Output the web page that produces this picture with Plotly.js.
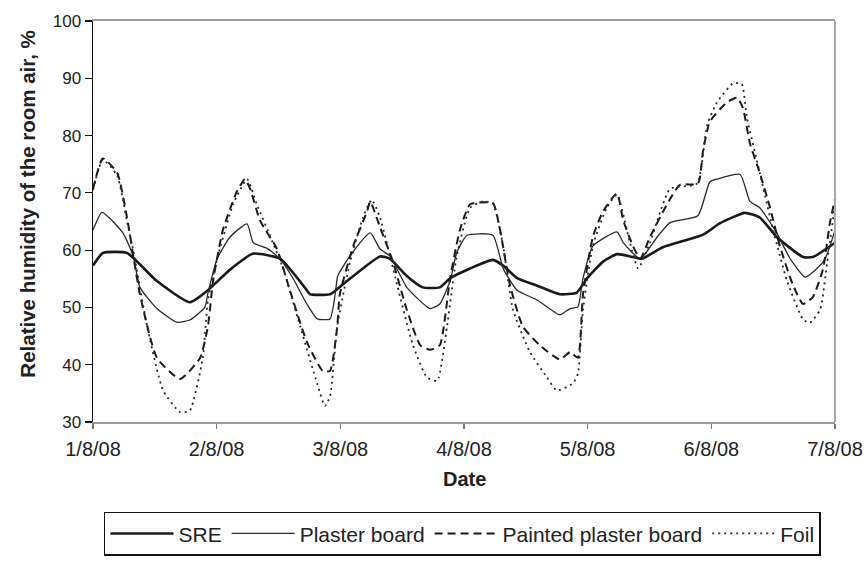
<!DOCTYPE html>
<html>
<head>
<meta charset="utf-8">
<script src="https://cdn.plot.ly/plotly-3.0.1.min.js"></script>
<style>
html,body{margin:0;padding:0;background:#fff;}
#chart{width:864px;height:568px;}
</style>
</head>
<body>
<div id="chart"></div>
<script>
// Tick labels (one per day) and their positions in hours since 1/8/08 00:00
const dayLabels = ['1/8/08','2/8/08','3/8/08','4/8/08','5/8/08','6/8/08','7/8/08'];
const dayHours = [0,24,48,72,96,120,144];

// SRE
const sreHours = [0,1.9,6.6,12.4,18.8,22.3,26.6,31.1,36.3,41.5,42.1,46,47.4,49.3,55.7,57.6,60.9,64,67.3,69.3,73.2,77.6,79.6,82.3,86.2,90.6,93.9,95.9,99,101.7,104.8,106.5,110.6,118.4,121.7,126.5,129.4,132.7,137.8,139.7,144];
const sreValues = [57.3,59.5,59.5,54.6,50.9,53,56.6,59.4,58.5,53,52.3,52.3,53.2,54.6,58.9,58.5,55.5,53.5,53.5,55.1,56.8,58.3,57.3,55.1,53.8,52.3,52.6,55.1,58,59.3,58.8,58.5,60.5,62.7,64.7,66.5,65.7,62.3,58.8,58.8,61.3];

// Plaster board
const plasterHours = [0,1.75,5.8,7.8,9.1,12.4,16.3,18.8,21.7,22.3,24.1,26.6,29.9,31.1,33.8,36.3,38.8,41.5,43.5,46,47,47.5,49.9,53.8,55.7,57.6,60.9,65.4,67.3,69.3,70.6,72.6,77.6,79.6,82.3,86.2,90.6,92.6,94.1,95.1,97,101.7,102.9,106.2,109.5,112,117.4,119.7,121.1,125.6,127.5,129.4,132.7,135.3,138.2,140.5,142.1,144];
const plasterValues = [63.5,66.6,63,59,53.5,49.8,47.4,47.8,50,52.5,58.5,62.3,64.6,61.3,60.3,58.5,55.1,50.6,48,48,52.3,55.5,59,63,60.2,59,53.5,49.8,50.6,54.6,59.6,62.6,62.6,56.8,53,51.3,48.7,49.8,50.1,55.1,60.7,63.2,61.3,58.5,62.3,64.8,66,71.9,72.4,73.2,68.5,67.4,63,58.5,55.3,56.8,58.5,63.5];

// Painted plaster board
const paintedHours = [0,1.9,4.7,6.6,9.1,12.4,16.9,20.8,22.3,23.3,25.2,27.9,29.5,30.5,32.4,35.7,38.2,41.5,44.6,46,47.4,47.9,50.5,53.2,53.8,55.7,58.2,60.9,63.5,65.4,67.3,69.3,71.2,73.2,77.6,79,80.9,83.4,86.7,90.6,92.6,94.1,95.1,97,99,101.7,102.9,104.8,106.2,108.1,111.4,113.9,117.4,118.4,119.7,123,125,126.1,127.5,129.4,131.4,133.3,135.8,137.8,139.7,141.7,143,144];
const paintedValues = [70.7,76,73.5,65.7,52.3,41.2,37.5,41.2,46.7,54.6,63.5,70.2,72.4,70.7,65.2,60.2,53,44,38.9,38.9,46.7,52.3,60.7,66.8,68.5,64,58,49.6,43.4,42.6,43.4,55.1,63.5,68,68.2,63.5,54,46.7,43.4,40.9,42.2,41.2,52.3,62.3,66.8,69.9,65.2,60.7,58.5,62.3,68,71.4,71.6,77.4,82.4,85.8,86.6,84.9,78.6,73.5,67.4,60.7,54,50.6,51.8,56.8,64.7,69];

// Foil
const foilHours = [0,1.9,4.7,6.6,7.8,10.5,13.6,16.9,18.8,21.3,22.3,24.1,27.2,29.9,31.8,34.9,36.9,40.2,43.5,45,46,47.4,49.9,52.4,54.1,55.7,59,62.1,64.8,66.8,68.7,70.6,73.2,75.7,77.6,79.6,81.5,84.8,88.1,90,93.1,94.1,95.1,97,99.7,101.7,104.2,105.8,108.1,112,117.2,119.2,121.1,124.2,125.9,126.9,129.4,132,134.7,137.8,139.1,141.1,142.5,144];
const foilValues = [70.5,75.8,73,65,60,46.7,35.5,31.7,32,41.2,51.3,58.5,68,72.4,68,61.3,56.8,46.7,36.7,32.8,34.5,46.7,58,65.7,68.8,65.7,54,43.4,37.8,37.2,46.7,59,67.4,68.5,68.2,60.7,49.6,42.2,37.8,35.5,36.7,38.4,49.6,60.7,67.4,69.7,61.3,56.8,61.3,70.7,71.6,81.9,85.8,89.1,89,83.1,73.5,63.5,54.6,47.9,47.3,49.6,58,68];

const FONT = 'Liberation Sans, Arial, sans-serif';

const traces = [
  {name:'SRE', x:sreHours, y:sreValues, mode:'lines', line:{color:'#1a1a1a', width:2.6, shape:'spline', smoothing:0.5}},
  {name:'Plaster board', x:plasterHours, y:plasterValues, mode:'lines', line:{color:'#2a2a2a', width:1.3, shape:'spline', smoothing:0.5}},
  {name:'Painted plaster board', x:paintedHours, y:paintedValues, mode:'lines', line:{color:'#1a1a1a', width:2, dash:'8px,5px', shape:'spline', smoothing:0.5}},
  {name:'Foil', x:foilHours, y:foilValues, mode:'lines', line:{color:'#2a2a2a', width:1.8, dash:'2px,4px', shape:'spline', smoothing:0.5}}
];

const layout = {
  width:864, height:568,
  margin:{l:93, r:29, t:21, b:128},
  paper_bgcolor:'#fff', plot_bgcolor:'#fff',
  font:{family:FONT, size:17, color:'#222'},
  showlegend:true,
  legend:{orientation:'h', x:0.0148, xanchor:'left', y:-0.224, yanchor:'top',
          bordercolor:'#111', borderwidth:1.5, bgcolor:'#fff',
          font:{family:FONT, size:21, color:'#222'}, itemwidth:63},
  xaxis:{range:[0,144], tickvals:dayHours, ticktext:dayLabels,
         showgrid:false, zeroline:false, showline:true, linecolor:'#9a9a9a', linewidth:2, mirror:true,
         ticks:'outside', ticklen:5, tickcolor:'#777', tickwidth:1.5,
         tickfont:{family:FONT, size:20, color:'#222'}, ticklabelstandoff:3},
  yaxis:{range:[30,100], dtick:10, tick0:30,
         showgrid:false, zeroline:false, showline:true, linecolor:'#111', linewidth:1.5,
         ticks:'outside', ticklen:7, tickcolor:'#111', tickwidth:1.2,
         tickfont:{family:FONT, size:17, color:'#222'}},
  shapes:[{type:'line', xref:'paper', yref:'paper', x0:1, x1:1, y0:0, y1:1,
           line:{color:'#a8a8a8', width:2}}],
  annotations:[
    {text:'<b>Relative humidity of the room air, %</b>', xref:'paper', yref:'paper',
     x:-0.0876, y:0.542, xanchor:'center', yanchor:'middle', textangle:-90, showarrow:false,
     font:{family:FONT, size:20.5, color:'#222'}},
    {text:'<b>Date</b>', xref:'paper', yref:'paper', x:0.5, y:-0.143, xanchor:'center', yanchor:'middle',
     showarrow:false, font:{family:FONT, size:20, color:'#222'}}
  ]
};

Plotly.newPlot('chart', traces, layout, {displayModeBar:false, staticPlot:true});
</script>
</body>
</html>
